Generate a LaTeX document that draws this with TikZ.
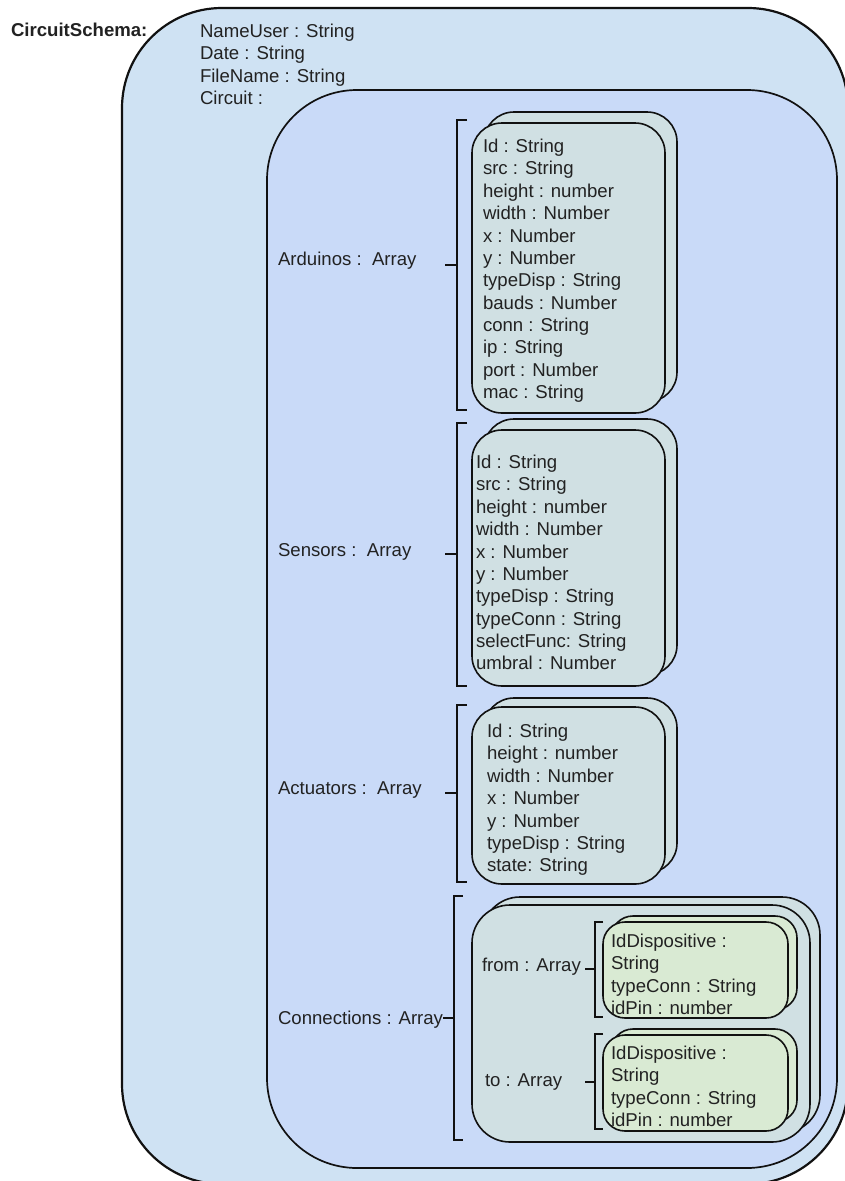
\documentclass[tikz,border=0pt]{standalone}
\usepackage{fontspec}
\setmainfont{Liberation Sans}
\definecolor{schemafill}{HTML}{CFE2F3}
\definecolor{circuitfill}{HTML}{C9DAF8}
\definecolor{recordfill}{HTML}{D0E0E3}
\definecolor{pinfill}{HTML}{D9EAD3}
\definecolor{inkline}{HTML}{111111}
\definecolor{inktext}{HTML}{222222}

% panel{style}{name}{x1}{y1}{x2}{y2}: rounded container drawn as a node
\newcommand\panel[6]{%
  \node[#1, minimum width={(#5)-(#3)}, minimum height={(#6)-(#4)},
        inner sep=0pt, outer sep=0pt] (#2) at ({((#3)+(#5))/2},{((#4)+(#6))/2}) {};}
% arraybracket{x}{top}{bottom}{tick y}{tick length}{hook length}
\newcommand\arraybracket[6]{%
  \draw[bracketline] ({#1+#6},#2) -- (#1,#2) -- (#1,#3) -- ({#1+#6},#3);
  \draw[bracketline] (#1,#4) -- ({#1-#5},#4);}

\begin{document}
\begin{tikzpicture}[x=1pt,y=-1pt,
  schemabox/.style={draw=inkline, fill=schemafill, line width=2.2pt, rounded corners=100pt},
  circuitbox/.style={draw=inkline, fill=circuitfill, line width=1.7pt, rounded corners=90pt},
  recordbox/.style={draw=inkline, fill=recordfill, line width=1.6pt, rounded corners=30pt},
  connbox/.style={draw=inkline, fill=recordfill, line width=1.6pt, rounded corners=38pt},
  pinbox/.style={draw=inkline, fill=pinfill, line width=1.6pt, rounded corners=22pt},
  bracketline/.style={draw=inkline, line width=1.6pt},
  fieldtext/.style={text=inktext, inner sep=0pt, outer sep=0pt, align=left,
    font=\fontsize{18.6}{22.35}\selectfont, anchor=north west},
  labeltext/.style={text=inktext, inner sep=0pt, outer sep=0pt,
    font=\fontsize{18.6}{22.35}\selectfont, anchor=base west},
]
\useasboundingbox (0,0) rectangle (845,1181);
\fill[white] (0,0) rectangle (845,1181);

% outer schema and the circuit container
\panel{schemabox}{schema}{122}{8}{848}{1184}
\panel{circuitbox}{circuit}{267}{90}{837}{1168}

% Arduinos record stack
\panel{recordbox}{arduinoBack}{484}{112}{677}{402}
\panel{recordbox}{arduinoFront}{472}{123}{665}{413}
% Sensors record stack
\panel{recordbox}{sensorBack}{484}{419}{677}{675}
\panel{recordbox}{sensorFront}{472}{430}{665}{686}
% Actuators record stack
\panel{recordbox}{actuatorBack}{484}{698}{677}{873}
\panel{recordbox}{actuatorFront}{472}{707}{665}{884}
% Connections record stack
\panel{connbox}{connBack}{482}{897}{820}{1133}
\panel{connbox}{connFront}{472}{905}{810}{1142}
% from / to pin stacks
\panel{pinbox}{fromBack}{611}{916}{797}{1010}
\panel{pinbox}{fromFront}{603}{922}{788}{1018}
\panel{pinbox}{toBack}{611}{1029}{797}{1122}
\panel{pinbox}{toFront}{603}{1035}{788}{1131}

% brackets marking the arrays
\arraybracket{457}{120}{410}{265}{12}{10}
\arraybracket{457}{423}{686}{554}{12}{10}
\arraybracket{457}{705}{882}{793}{12}{10}
\arraybracket{454}{896}{1140}{1018}{11}{9}
\arraybracket{595}{922}{1017}{969}{10}{8}
\arraybracket{595}{1034}{1129}{1082}{10}{8}

% titles and labels
\node[labeltext, font=\fontsize{18.6}{22.35}\selectfont\bfseries] (title) at (11,36.6) {CircuitSchema:};
\node[fieldtext] (schemaFields) at (200,{31+6.6-16}) {\rule{0pt}{16pt}NameUser : String\\Date : String\\FileName : String\\Circuit :};

\node[labeltext] (arduinoLabel) at (278,265.6) {Arduinos :\ \ Array};
\node[labeltext] (sensorLabel) at (278,556.6) {Sensors :\ \ Array};
\node[labeltext] (actuatorLabel) at (278,794.6) {Actuators :\ \ Array};
\node[labeltext] (connLabel) at (278,1024.6) {Connections : Array};

\node[fieldtext] (arduinoFields) at (483,{146+6.6-16}) {\rule{0pt}{16pt}Id : String\\src : String\\height : number\\width : Number\\x : Number\\y : Number\\typeDisp : String\\bauds : Number\\conn : String\\ip : String\\port : Number\\mac : String};
\node[fieldtext] (sensorFields) at (476,{462+6.6-16}) {\rule{0pt}{16pt}Id : String\\src : String\\height : number\\width : Number\\x : Number\\y : Number\\typeDisp : String\\typeConn : String\\selectFunc: String\\umbral : Number};
\node[fieldtext] (actuatorFields) at (487,{731+6.6-16}) {\rule{0pt}{16pt}Id : String\\height : number\\width : Number\\x : Number\\y : Number\\typeDisp : String\\state: String};

\node[labeltext] (fromLabel) at (482,971.6) {from : Array};
\node[labeltext] (toLabel) at (485,1086.6) {to : Array};

\node[fieldtext] (fromFields) at (611,{941+6.6-16}) {\rule{0pt}{16pt}IdDispositive :\\String\\typeConn : String\\idPin : number};
\node[fieldtext] (toFields) at (611,{1053+6.6-16}) {\rule{0pt}{16pt}IdDispositive :\\String\\typeConn : String\\idPin : number};
\end{tikzpicture}
\end{document}
